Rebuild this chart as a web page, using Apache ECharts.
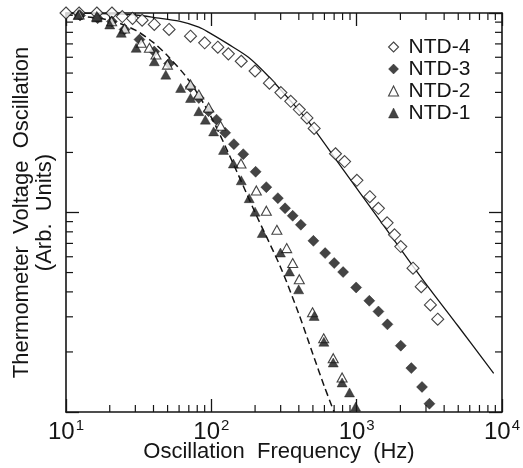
<!DOCTYPE html>
<html>
<head>
<meta charset="utf-8">
<script src="https://cdn.jsdelivr.net/npm/echarts@6/dist/echarts.min.js"></script>
<style>
html,body{margin:0;padding:0;background:#fff;}
#chart{width:523px;height:468px;}
</style>
</head>
<body>
<div id="chart"></div>
<script>
// ---- data (frequency Hz, amplitude arb. units) ----
const seriesNames = ['NTD-4', 'NTD-3', 'NTD-2', 'NTD-1'];

const ntd4 = [[10,10],[12.3,10],[16.3,10],[20.7,10],[24.4,9.6],[28.7,9.4],[33.4,9.2],[40.5,8.76],[51.2,8.27],[71.9,7.65],[90,7.09],[110.8,6.74],[131,6.24],[160.6,5.73],[200,5.12],[251,4.45],[301,3.99],[352,3.61],[403,3.28],[455,2.98],[510,2.64],[715,1.97],[826,1.80],[1004,1.45],[1232,1.20],[1412,1.05],[1620,0.888],[1822,0.773],[2012,0.675],[2442,0.526],[2782,0.425],[3218,0.344],[3613,0.292]];

const ntd3 = [[12.5,9.71],[16.5,9.41],[20.7,9.07],[25.3,8.27],[32,7.36],[40.5,6.41],[51.2,5.58],[71.9,4.26],[82,3.75],[95.8,3.22],[108.6,2.92],[124.5,2.51],[143,2.2],[165.9,1.96],[201.8,1.6],[238.9,1.34],[287,1.18],[321.7,1.05],[363,0.963],[413,0.868],[504,0.721],[607,0.626],[701,0.558],[807,0.503],[992,0.421],[1222,0.361],[1412,0.319],[1628,0.275],[2012,0.215],[2378,0.166],[2817,0.1335],[3168,0.110]];

const ntd2 = [[12.3,9.83],[16.3,9.6],[20.6,9.09],[25.3,8.36],[32.9,7.09],[37.5,6.69],[41.6,6.19],[49.9,5.51],[71.9,4.38],[82,3.9],[95.8,3.36],[115.7,2.72],[160,1.76],[204,1.29],[239,1.02],[282.5,0.819],[330,0.663],[363,0.558],[403,0.463],[497,0.316],[593,0.234],[690,0.186],[794,0.149]];

const ntd1 = [[12.1,9.77],[16.3,9.49],[20,8.76],[24,7.96],[30.4,6.69],[40.5,5.73],[48.6,4.91],[61.5,4.21],[71.9,3.75],[82,3.22],[91,2.92],[103.7,2.55],[121.3,2.06],[141.8,1.76],[160.7,1.45],[182.2,1.18],[200,1.01],[224,0.789],[299,0.63],[345,0.506],[399,0.412],[510,0.303],[595,0.225],[690,0.177],[794,0.1406],[893,0.1253],[984,0.1063]];

// fitted curves
const solidFit = [[10,10],[20,9.9],[30,9.77],[42,9.46],[60,9.1],[82,8.5],[96,8.0],[130,7.0],[180,6.0],[245,4.85],[353,3.61],[483,2.76],[794,1.67],[1500,0.88],[2857,0.46],[5000,0.269],[8770,0.156]];
const dashedFit = [[10,9.8],[20,9.2],[30,8.2],[40,7.1],[50,6.1],[70,4.6],[100,3.0],[150,1.6],[200,1.0],[300,0.53],[400,0.31],[500,0.195],[600,0.134],[700,0.1]];

// axes
const X_MIN = 10, X_MAX = 10000, Y_MIN = 0.1, Y_MAX = 10;
const xTickExponents = ['1', '2', '3', '4'];
const xMinorTicks = [20,30,40,50,60,70,80,90,200,300,400,500,600,700,800,900,2000,3000,4000,5000,6000,7000,8000,9000];
const yMinorTicks = [0.2,0.3,0.4,0.5,0.6,0.7,0.8,0.9,2,3,4,5,6,7,8,9];

const INK = '#151515';
const FONT = '"Liberation Sans", Arial, Helvetica, sans-serif';

const minorData = xMinorTicks.map(v => [v, Y_MIN, 0]).concat(yMinorTicks.map(v => [X_MIN, v, 1]));

function axisBase(pos) {
  return {
    type: 'log', logBase: 10, position: pos,
    axisLine: {show: true, onZero: false, lineStyle: {color: INK, width: 1.6}},
    axisTick: {show: true, inside: true, length: 13, lineStyle: {color: INK, width: 1.3}},
    minorTick: {show: false},
    splitLine: {show: false},
    axisLabel: {show: false}
  };
}

const chart = echarts.init(document.getElementById('chart'));
const openStyle = {color: '#fff', borderColor: INK, borderWidth: 1.1};
const fillStyle = {color: INK, borderColor: INK, borderWidth: 0.5};

const option = {
  backgroundColor: '#fff',
  animation: false,
  grid: {left: 66, right: 16, top: 13, bottom: 56},
  legend: {
    orient: 'vertical', left: 383, top: 31,
    itemWidth: 10, itemHeight: 10, itemGap: 0, symbolKeepAspect: true,
    textStyle: {fontFamily: FONT, fontSize: 21, color: INK, lineHeight: 22, padding: [0, 0, 0, 5]},
    data: [
      {name: 'NTD-4', icon: 'diamond', itemStyle: openStyle},
      {name: 'NTD-3', icon: 'diamond', itemStyle: fillStyle},
      {name: 'NTD-2', icon: 'triangle', itemStyle: openStyle},
      {name: 'NTD-1', icon: 'triangle', itemStyle: fillStyle}
    ]
  },
  xAxis: [
    Object.assign(axisBase('bottom'), {
      min: X_MIN, max: X_MAX,
      name: 'Oscillation  Frequency  (Hz)', nameLocation: 'middle', nameGap: 29,
      nameMoveOverlap: false,
      nameTextStyle: {fontFamily: FONT, fontSize: 22, color: INK, lineHeight: 22, padding: [0, 10, 0, 0]},
      axisLabel: {
        show: true, margin: 6, color: INK, fontFamily: FONT,
        formatter: function (v) {
          const e = Math.round(Math.log10(v));
          return '{b|10}{s|' + xTickExponents[e - 1] + '}';
        },
        rich: {
          b: {fontSize: 24, lineHeight: 28, fontFamily: FONT, color: INK},
          s: {fontSize: 15, lineHeight: 15, verticalAlign: 'top', fontFamily: FONT, color: INK, padding: [0, 0, 0, 1]}
        }
      }
    }),
    Object.assign(axisBase('top'), {min: X_MIN, max: X_MAX})
  ],
  yAxis: [
    Object.assign(axisBase('left'), {
      min: Y_MIN, max: Y_MAX,
      name: 'Thermometer  Voltage  Oscillation\n(Arb.  Units)',
      nameLocation: 'middle', nameGap: 10, nameRotate: 90,
      nameMoveOverlap: false,
      nameTextStyle: {fontFamily: FONT, fontSize: 22, color: INK, lineHeight: 23, align: 'center'}
    }),
    Object.assign(axisBase('right'), {min: Y_MIN, max: Y_MAX})
  ],
  series: [
    {
      name: 'fit-solid', type: 'line', data: solidFit, showSymbol: false, smooth: 0.3,
      lineStyle: {color: INK, width: 1.3}, silent: true, z: 1
    },
    {
      name: 'fit-dashed', type: 'line', data: dashedFit, showSymbol: false, smooth: 0.3,
      lineStyle: {color: INK, width: 1.5, type: [7, 4]}, silent: true, z: 1
    },
    {
      name: 'minor-ticks', type: 'custom', data: minorData, clip: false, silent: true, z: 3,
      encode: {x: 0, y: 1},
      renderItem: function (params, api) {
        const kind = api.value(2);
        const len = 7;
        const st = {stroke: INK, lineWidth: 1.2};
        if (kind === 0) {
          const pb = api.coord([api.value(0), Y_MIN]);
          const pt = api.coord([api.value(0), Y_MAX]);
          return {type: 'group', children: [
            {type: 'line', shape: {x1: pb[0], y1: pb[1], x2: pb[0], y2: pb[1] - len}, style: st},
            {type: 'line', shape: {x1: pt[0], y1: pt[1], x2: pt[0], y2: pt[1] + len}, style: st}
          ]};
        }
        const pl = api.coord([X_MIN, api.value(1)]);
        const pr = api.coord([X_MAX, api.value(1)]);
        return {type: 'group', children: [
          {type: 'line', shape: {x1: pl[0], y1: pl[1], x2: pl[0] + len, y2: pl[1]}, style: st},
          {type: 'line', shape: {x1: pr[0], y1: pr[1], x2: pr[0] - len, y2: pr[1]}, style: st}
        ]};
      }
    },
    {name: 'NTD-4', type: 'scatter', data: ntd4, symbol: 'diamond', symbolSize: [12, 12], itemStyle: openStyle, clip: false, z: 4},
    {name: 'NTD-3', type: 'scatter', data: ntd3, symbol: 'diamond', symbolSize: [11, 11], itemStyle: fillStyle, clip: false, z: 4},
    {name: 'NTD-2', type: 'scatter', data: ntd2, symbol: 'triangle', symbolSize: [10, 9], itemStyle: openStyle, clip: false, z: 5},
    {name: 'NTD-1', type: 'scatter', data: ntd1, symbol: 'triangle', symbolSize: [10, 9], itemStyle: fillStyle, clip: false, z: 5}
  ]
};
chart.setOption(option);
</script>
</body>
</html>
